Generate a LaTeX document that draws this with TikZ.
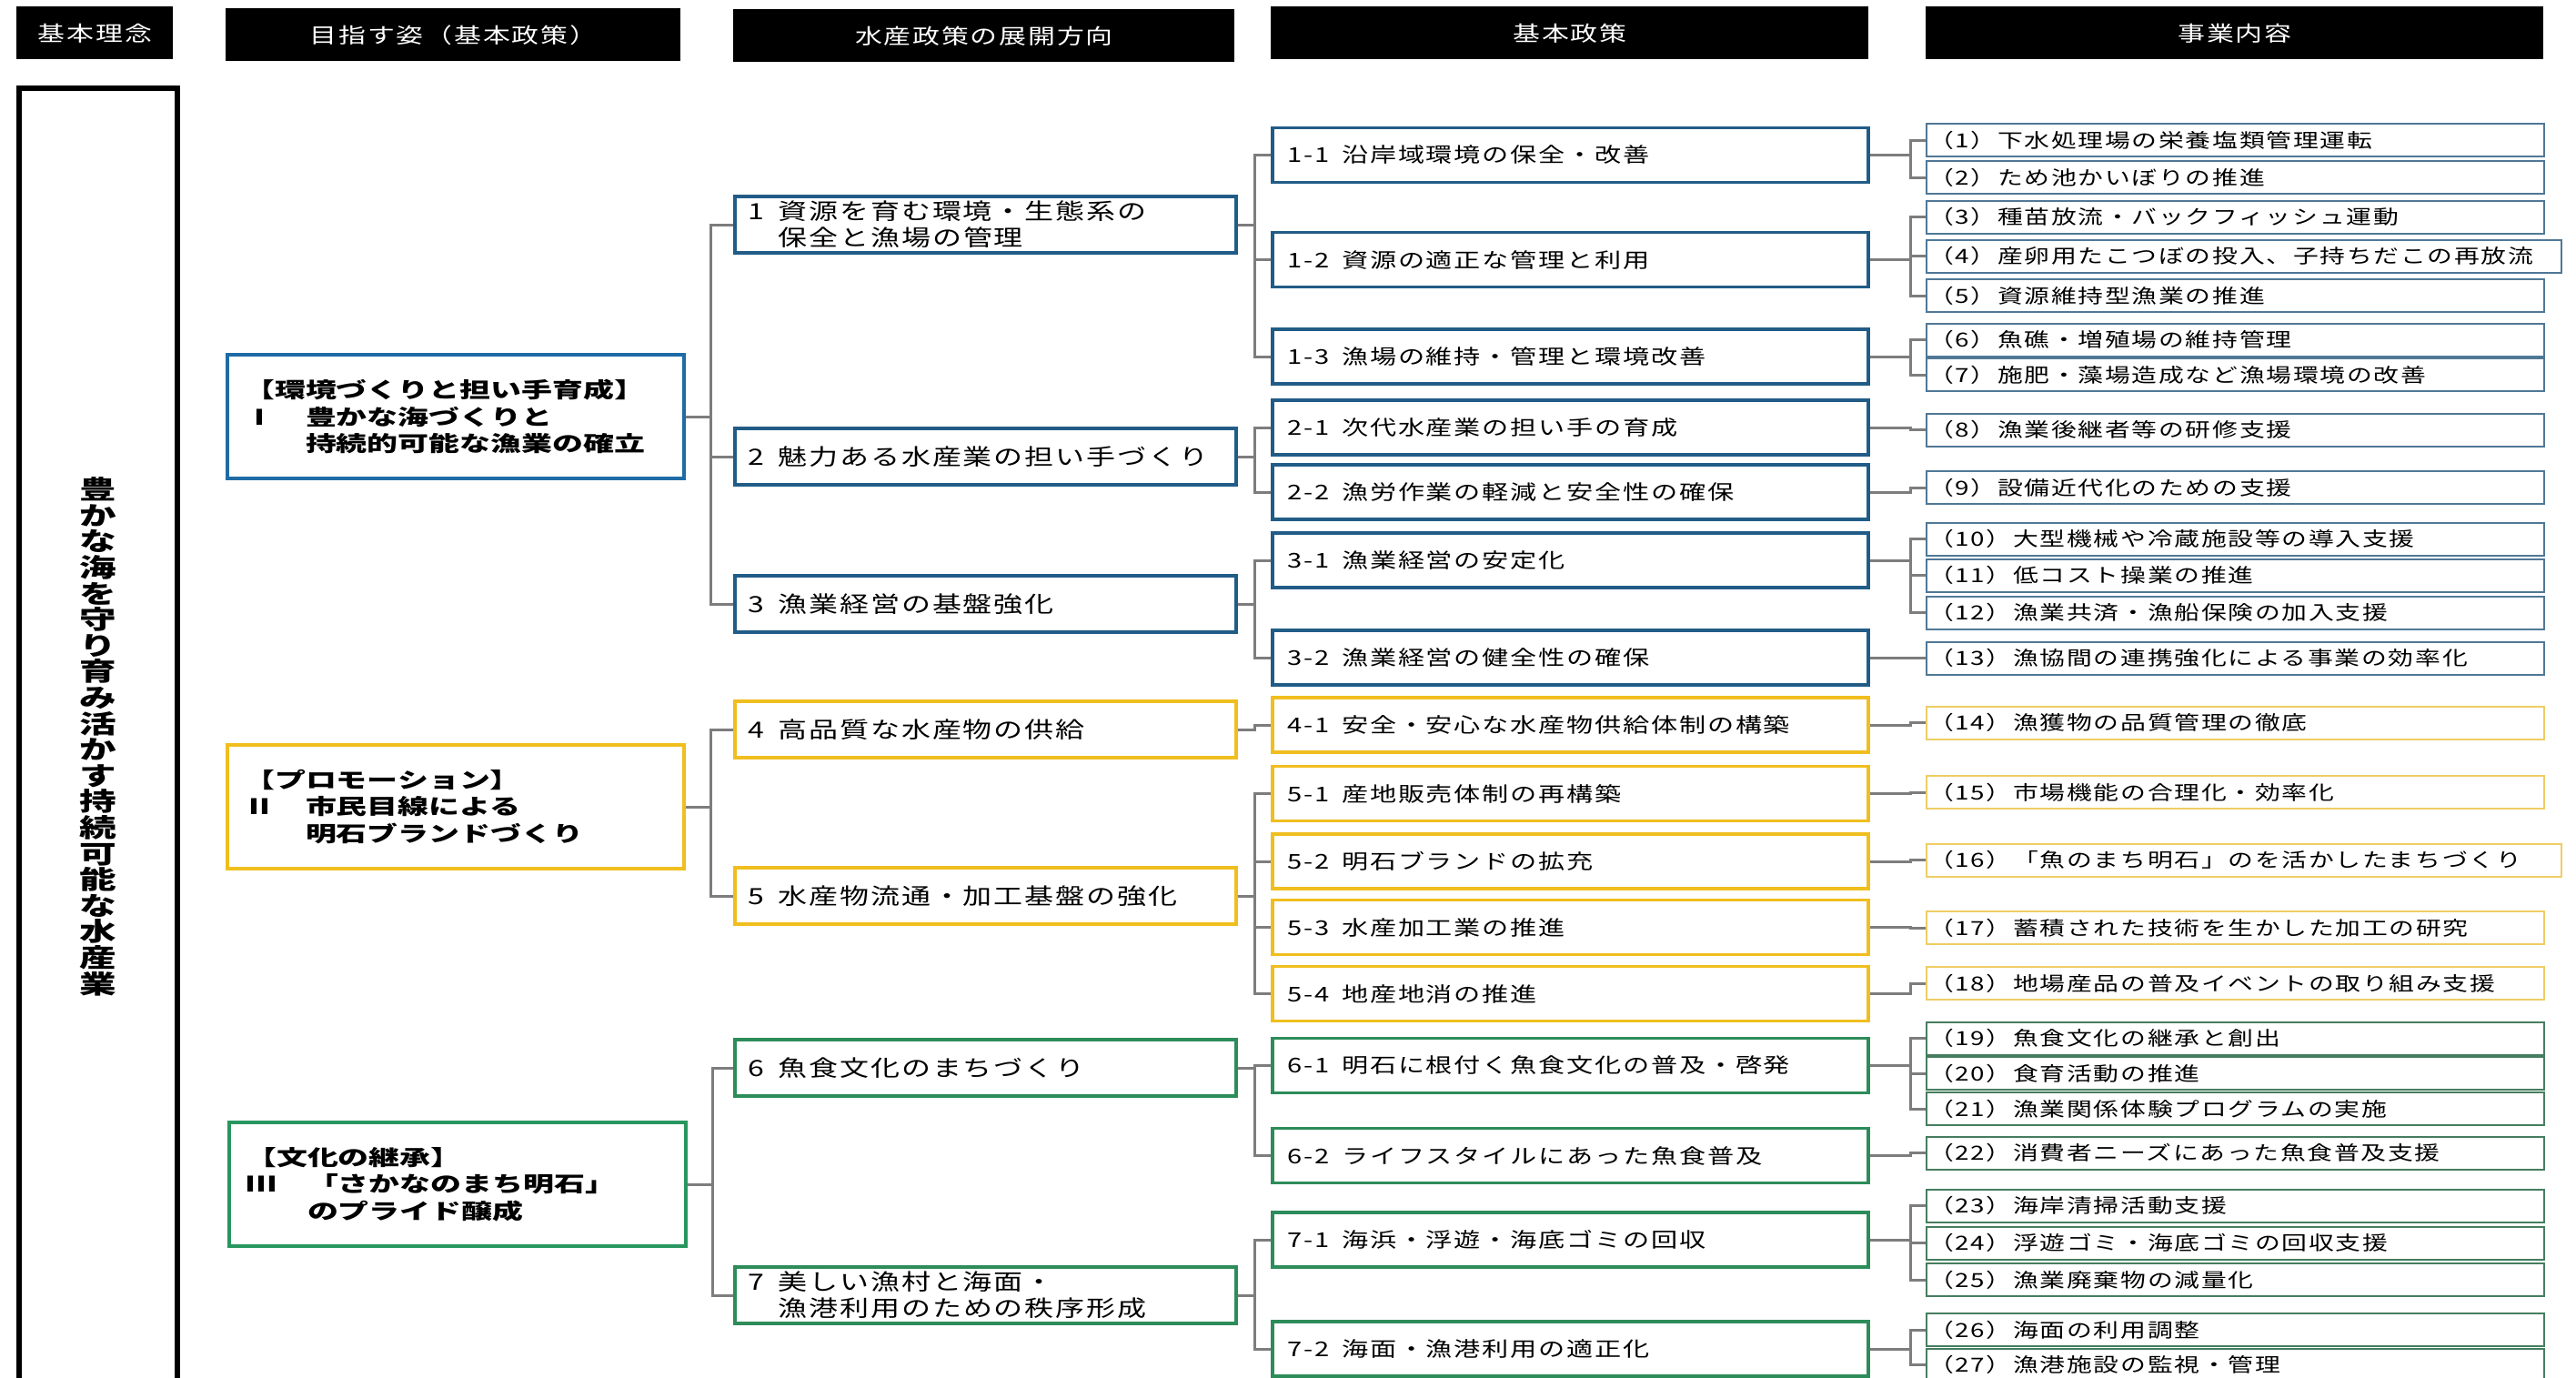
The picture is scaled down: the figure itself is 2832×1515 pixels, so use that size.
\documentclass[tikz,border=0pt]{standalone}
\usepackage{fontspec}
\usetikzlibrary{positioning}
\newfontfamily\jpfont[FakeStretch=1.3,LetterSpace=8]{Noto Sans CJK JP}
\newfontfamily\jpfat[FakeStretch=1.45]{Noto Sans CJK JP}
\newcommand\gap{\hspace{0.6em}}
\definecolor{blueA}{RGB}{31,107,165}
\definecolor{blueB}{RGB}{33,92,135}
\definecolor{blueC}{RGB}{80,120,150}
\definecolor{yellowA}{RGB}{240,190,30}
\definecolor{yellowC}{RGB}{238,205,100}
\definecolor{greenA}{RGB}{40,150,95}
\definecolor{greenB}{RGB}{45,140,90}
\definecolor{greenC}{RGB}{70,125,95}
\definecolor{linkgray}{RGB}{125,125,125}
\exhyphenpenalty=10000
\begin{document}
\begin{tikzpicture}[x=0.5pt,y=-0.5pt,
  head/.style={fill=black,text=white,font=\jpfont\fontsize{11.5}{13}\selectfont,
    minimum height=29pt,inner sep=0pt,anchor=north west},
  goal/.style={draw=#1,fill=white,line width=2.2pt,text width=233pt,inner xsep=9pt,
    inner ysep=0pt,minimum height=68pt,align=left,anchor=west,
    font=\jpfat\bfseries\fontsize{11.7}{14.75}\selectfont},
  dir/.style={draw=#1,fill=white,line width=1.8pt,text width=260.5pt,inner xsep=7.5pt,
    inner ysep=0pt,minimum height=31pt,align=left,anchor=west,
    font=\jpfont\fontsize{12.3}{14.5}\selectfont},
  pol/.style={draw=#1,fill=white,line width=1.8pt,text width=310.5pt,inner xsep=8.5pt,
    inner ysep=0pt,minimum height=30pt,align=left,anchor=west,
    font=\jpfont\fontsize{11.2}{12}\selectfont},
  act/.style={draw=#1,fill=white,line width=1pt,text width=337.5pt,inner xsep=1pt,
    inner ysep=0pt,minimum height=18pt,align=left,anchor=west,
    font=\jpfont\fontsize{10.7}{11}\selectfont},
  wide/.style={text width=347pt},
  link/.style={draw=linkgray,line width=1.5pt},
  elbow/.style={to path={(\tikztostart.east) -- ++(#1,0) |- (\tikztotarget.west)}}]
  \useasboundingbox[fill=white] (0,0) rectangle (2832,1515);

  \node[head,minimum width=86pt] (h0) at (18,7) {基本理念};
  \node[head,minimum width=250pt] (h1) at (248,9) {目指す姿（基本政策）};
  \node[head,minimum width=275.5pt] (h2) at (806,10) {水産政策の展開方向};
  \node[head,minimum width=328.5pt] (h3) at (1397,7) {基本政策};
  \node[head,minimum width=339.5pt] (h4) at (2117,7) {事業内容};

  \node[draw,line width=2.8pt,minimum width=87pt,minimum height=713pt,inner sep=0pt,
    anchor=north west,align=center,font=\jpfat\bfseries\fontsize{14}{14.3}\selectfont]
    (vision) at (18,94) {豊\\か\\な\\海\\を\\守\\り\\育\\み\\活\\か\\す\\持\\続\\可\\能\\な\\水\\産\\業};

  \node[goal=blueA] (g1) at (248,458) {【環境づくりと担い手育成】\\Ⅰ　豊かな海づくりと\\\hphantom{Ⅰ　}持続的可能な漁業の確立};
  \node[goal=yellowA] (g2) at (248,887) {【プロモーション】\\Ⅱ　市民目線による\\\hphantom{Ⅱ　}明石ブランドづくり};
  \node[goal=greenA] (g3) at (250,1302) {【文化の継承】\\Ⅲ　「さかなのまち明石」\\\hphantom{Ⅲ　}のプライド醸成};

  \node[dir=blueB] (d1) at (806,247) {1\gap 資源を育む環境・生態系の\\\hphantom{1\gap}保全と漁場の管理};
  \node[dir=blueB] (d2) at (806,502) {2\gap 魅力ある水産業の担い手づくり};
  \node[dir=blueB] (d3) at (806,664) {3\gap 漁業経営の基盤強化};
  \node[dir=yellowA] (d4) at (806,802) {4\gap 高品質な水産物の供給};
  \node[dir=yellowA] (d5) at (806,985) {5\gap 水産物流通・加工基盤の強化};
  \node[dir=greenB] (d6) at (806,1174) {6\gap 魚食文化のまちづくり};
  \node[dir=greenB] (d7) at (806,1424) {7\gap 美しい漁村と海面・\\\hphantom{7\gap}漁港利用のための秩序形成};

  \node[pol=blueB] (p11) at (1397,170.5) {1-1\gap 沿岸域環境の保全・改善};
  \node[pol=blueB] (p12) at (1397,285.5) {1-2\gap 資源の適正な管理と利用};
  \node[pol=blueB] (p13) at (1397,392) {1-3\gap 漁場の維持・管理と環境改善};
  \node[pol=blueB] (p21) at (1397,470) {2-1\gap 次代水産業の担い手の育成};
  \node[pol=blueB] (p22) at (1397,541) {2-2\gap 漁労作業の軽減と安全性の確保};
  \node[pol=blueB] (p31) at (1397,616) {3-1\gap 漁業経営の安定化};
  \node[pol=blueB] (p32) at (1397,723) {3-2\gap 漁業経営の健全性の確保};
  \node[pol=yellowA] (p41) at (1397,797) {4-1\gap 安全・安心な水産物供給体制の構築};
  \node[pol=yellowA] (p51) at (1397,872.5) {5-1\gap 産地販売体制の再構築};
  \node[pol=yellowA] (p52) at (1397,947) {5-2\gap 明石ブランドの拡充};
  \node[pol=yellowA] (p53) at (1397,1019.5) {5-3\gap 水産加工業の推進};
  \node[pol=yellowA] (p54) at (1397,1092.5) {5-4\gap 地産地消の推進};
  \node[pol=greenB] (p61) at (1397,1171.5) {6-1\gap 明石に根付く魚食文化の普及・啓発};
  \node[pol=greenB] (p62) at (1397,1270.5) {6-2\gap ライフスタイルにあった魚食普及};
  \node[pol=greenB] (p71) at (1397,1363) {7-1\gap 海浜・浮遊・海底ゴミの回収};
  \node[pol=greenB] (p72) at (1397,1483) {7-2\gap 海面・漁港利用の適正化};

  \node[act=blueC] (a1) at (2117,154) {（1）下水処理場の栄養塩類管理運転};
  \node[act=blueC] (a2) at (2117,195) {（2）ため池かいぼりの推進};
  \node[act=blueC] (a3) at (2117,238.5) {（3）種苗放流・バックフィッシュ運動};
  \node[act=blueC,wide] (a4) at (2117,281.5) {（4）産卵用たこつぼの投入、子持ちだこの再放流};
  \node[act=blueC] (a5) at (2117,325) {（5）資源維持型漁業の推進};
  \node[act=blueC] (a6) at (2117,373.5) {（6）魚礁・増殖場の維持管理};
  \node[act=blueC] (a7) at (2117,412) {（7）施肥・藻場造成など漁場環境の改善};
  \node[act=blueC] (a8) at (2117,472.5) {（8）漁業後継者等の研修支援};
  \node[act=blueC] (a9) at (2117,536) {（9）設備近代化のための支援};
  \node[act=blueC] (a10) at (2117,592.5) {（10）大型機械や冷蔵施設等の導入支援};
  \node[act=blueC] (a11) at (2117,632.5) {（11）低コスト操業の推進};
  \node[act=blueC] (a12) at (2117,673.5) {（12）漁業共済・漁船保険の加入支援};
  \node[act=blueC] (a13) at (2117,723.5) {（13）漁協間の連携強化による事業の効率化};
  \node[act=yellowC] (a14) at (2117,794.5) {（14）漁獲物の品質管理の徹底};
  \node[act=yellowC] (a15) at (2117,871) {（15）市場機能の合理化・効率化};
  \node[act=yellowC,wide] (a16) at (2117,945.5) {（16）「魚のまち明石」のを活かしたまちづくり};
  \node[act=yellowC] (a17) at (2117,1020) {（17）蓄積された技術を生かした加工の研究};
  \node[act=yellowC] (a18) at (2117,1081) {（18）地場産品の普及イベントの取り組み支援};
  \node[act=greenC] (a19) at (2117,1141.5) {（19）魚食文化の継承と創出};
  \node[act=greenC] (a20) at (2117,1180) {（20）食育活動の推進};
  \node[act=greenC] (a21) at (2117,1219) {（21）漁業関係体験プログラムの実施};
  \node[act=greenC] (a22) at (2117,1267.5) {（22）消費者ニーズにあった魚食普及支援};
  \node[act=greenC] (a23) at (2117,1325.5) {（23）海岸清掃活動支援};
  \node[act=greenC] (a24) at (2117,1366.5) {（24）浮遊ゴミ・海底ゴミの回収支援};
  \node[act=greenC] (a25) at (2117,1407) {（25）漁業廃棄物の減量化};
  \node[act=greenC] (a26) at (2117,1462) {（26）海面の利用調整};
  \node[act=greenC] (a27) at (2117,1500.5) {（27）漁港施設の監視・管理};

  \path[every edge/.style={link,elbow=27}]
    (g1) edge (d1) edge (d2) edge (d3)
    (g2) edge (d4) edge (d5)
    (g3) edge (d6) edge (d7);
  \path[every edge/.style={link,elbow=19}]
    (d1) edge (p11) edge (p12) edge (p13)
    (d2) edge (p21) edge (p22)
    (d3) edge (p31) edge (p32)
    (d4) edge (p41)
    (d5) edge (p51) edge (p52) edge (p53) edge (p54)
    (d6) edge (p61) edge (p62)
    (d7) edge (p71) edge (p72);
  \path[every edge/.style={link,elbow=45}]
    (p11) edge (a1) edge (a2)
    (p12) edge (a3) edge (a4) edge (a5)
    (p13) edge (a6) edge (a7)
    (p21) edge (a8)
    (p22) edge (a9)
    (p31) edge (a10) edge (a11) edge (a12)
    (p32) edge (a13)
    (p41) edge (a14)
    (p51) edge (a15)
    (p52) edge (a16)
    (p53) edge (a17)
    (p54) edge (a18)
    (p61) edge (a19) edge (a20) edge (a21)
    (p62) edge (a22)
    (p71) edge (a23) edge (a24) edge (a25)
    (p72) edge (a26) edge (a27);
\end{tikzpicture}
\end{document}
